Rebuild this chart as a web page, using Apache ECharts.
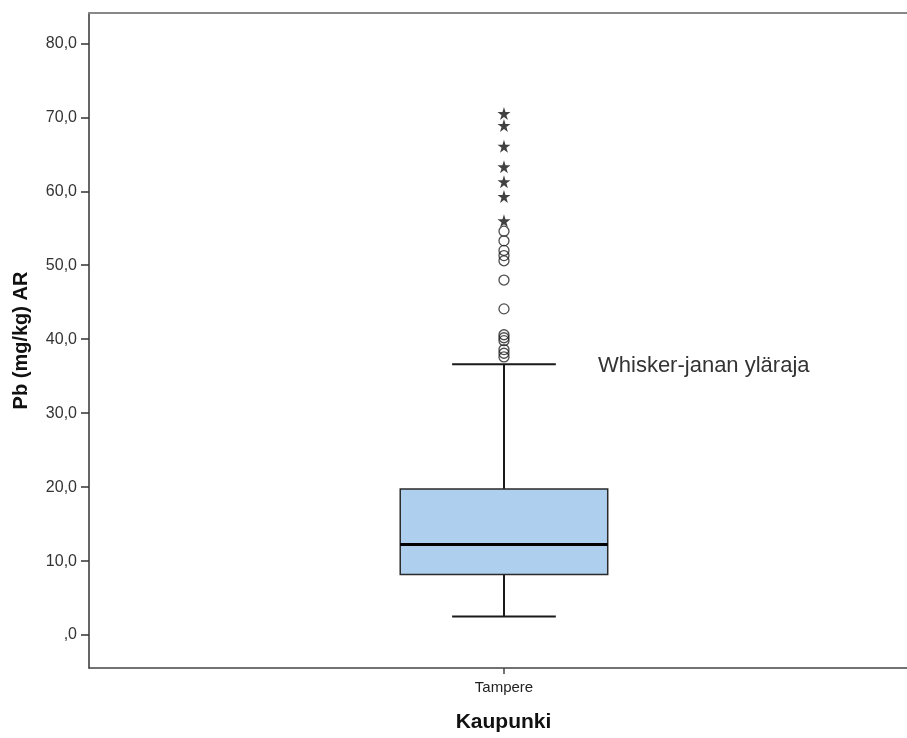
<!DOCTYPE html>
<html>
<head>
<meta charset="utf-8">
<script src="https://cdn.jsdelivr.net/npm/echarts@6/dist/echarts.min.js"></script>
<style>
html,body{margin:0;padding:0;background:#fff;overflow:hidden;}
#chart{width:907px;height:738px;}
</style>
</head>
<body>
<div id="chart"></div>
<script>
// ---- data ----
var categories = ['Tampere'];
// [min whisker, Q1, median, Q3, max whisker]
var boxStats = [[2.5, 8.2, 12.25, 19.75, 36.6]];
var outlierCircles = [54.6, 53.3, 52.0, 51.3, 50.6, 48.0, 44.1, 40.6, 40.2, 39.8, 38.6, 38.1, 37.6];
var outlierStars = [70.5, 68.9, 66.1, 63.3, 61.3, 59.3, 56.0];
var yTicks = [0, 10, 20, 30, 40, 50, 60, 70, 80];
var yMin = -4.45, yMax = 84.1;
var xMin = -0.5, xMax = 0.4856;   // category slot, plot frame runs past the right edge
var annotationText = 'Whisker-janan yläraja';

var FONT = 'Liberation Sans, Arial, sans-serif';
var chart = echarts.init(document.getElementById('chart'), null, {renderer: 'canvas'});

var starPath = 'path://M50,0 L61,35 L98,35 L68,57 L79,91 L50,70 L21,91 L32,57 L2,35 L39,35 Z';

function renderBox(params, api) {
  var idx = api.value(0);
  var lo = api.value(1), q1 = api.value(2), med = api.value(3), q3 = api.value(4), hi = api.value(5);
  var band = api.size([1, 0])[0];
  var half = band * 0.125;
  var cap = half / 2;
  var pLo = api.coord([idx, lo]), pQ1 = api.coord([idx, q1]), pMed = api.coord([idx, med]),
      pQ3 = api.coord([idx, q3]), pHi = api.coord([idx, hi]);
  var x = pMed[0];
  var stroke = '#1a1a1a';
  return {
    type: 'group',
    children: [
      {type: 'line', shape: {x1: x, y1: pQ3[1], x2: x, y2: pHi[1]}, style: {stroke: stroke, lineWidth: 2}},
      {type: 'line', shape: {x1: x, y1: pQ1[1], x2: x, y2: pLo[1]}, style: {stroke: stroke, lineWidth: 2}},
      {type: 'line', shape: {x1: x - cap, y1: pHi[1], x2: x + cap, y2: pHi[1]}, style: {stroke: stroke, lineWidth: 2}},
      {type: 'line', shape: {x1: x - cap, y1: pLo[1], x2: x + cap, y2: pLo[1]}, style: {stroke: stroke, lineWidth: 2}},
      {type: 'rect', shape: {x: x - half, y: pQ3[1], width: 2 * half, height: pQ1[1] - pQ3[1]},
        style: {fill: '#aecfed', stroke: '#2a2a2a', lineWidth: 1.5}},
      {type: 'line', shape: {x1: x - half, y1: pMed[1], x2: x + half, y2: pMed[1]}, style: {stroke: '#000', lineWidth: 3}}
    ]
  };
}

var boxData = boxStats.map(function (s, i) { return [i].concat(s); });
var circleData = outlierCircles.map(function (v) { return [0, v]; });
var starData = outlierStars.map(function (v) { return [0, v]; });
var xTicks = categories.map(function (c, i) { return i; });

chart.setOption({
  animation: false,
  backgroundColor: '#fff',
  grid: {left: 89, right: 0, top: 13, bottom: 67},
  xAxis: [{
    type: 'value',
    min: xMin,
    max: xMax,
    position: 'bottom',
    name: 'Kaupunki',
    nameLocation: 'middle',
    nameGap: 44,
    nameTextStyle: {fontFamily: FONT, fontWeight: 'bold', fontSize: 21, color: '#111', padding: [0, 0, 0, 11]},
    axisLine: {onZero: false, lineStyle: {color: '#444', width: 1.5}},
    axisTick: {show: true, customValues: xTicks, length: 6, lineStyle: {color: '#444', width: 1.5}},
    axisLabel: {customValues: xTicks, fontFamily: FONT, fontSize: 15, color: '#222', margin: 12,
      formatter: function (v) { return categories[Math.round(v)] || ''; }},
    splitLine: {show: false}
  }, {
    type: 'value',
    min: xMin,
    max: xMax,
    position: 'top',
    axisLine: {show: true, onZero: false, lineStyle: {color: '#888', width: 2}},
    axisTick: {show: false},
    axisLabel: {show: false},
    splitLine: {show: false}
  }],
  yAxis: {
    type: 'value',
    min: yMin,
    max: yMax,
    name: 'Pb (mg/kg) AR',
    nameLocation: 'middle',
    nameGap: 58,
    nameTextStyle: {fontFamily: FONT, fontWeight: 'bold', fontSize: 20, color: '#111'},
    axisLine: {show: true, onZero: false, lineStyle: {color: '#333', width: 1.5}},
    axisTick: {show: true, length: 8, customValues: yTicks, lineStyle: {color: '#333', width: 1.5}},
    axisLabel: {
      customValues: yTicks,
      fontFamily: FONT, fontSize: 16, color: '#333', margin: 12,
      formatter: function (v) { return v === 0 ? ',0' : v.toFixed(1).replace('.', ','); }
    },
    splitLine: {show: false}
  },
  series: [{
    type: 'custom',
    renderItem: renderBox,
    data: boxData,
    encode: {x: 0, y: [1, 2, 3, 4, 5]},
    z: 2
  }, {
    type: 'scatter',
    data: circleData,
    symbol: 'circle',
    symbolSize: 10,
    itemStyle: {color: 'rgba(0,0,0,0)', borderColor: '#222', borderWidth: 1.3},
    z: 3
  }, {
    type: 'scatter',
    data: starData,
    symbol: starPath,
    symbolSize: 13,
    itemStyle: {color: '#111'},
    z: 3
  }],
  graphic: [{
    type: 'text',
    left: 598,
    top: 355,
    style: {text: annotationText, fontFamily: FONT, fontSize: 22, fill: '#333'}
  }]
});
</script>
</body>
</html>
